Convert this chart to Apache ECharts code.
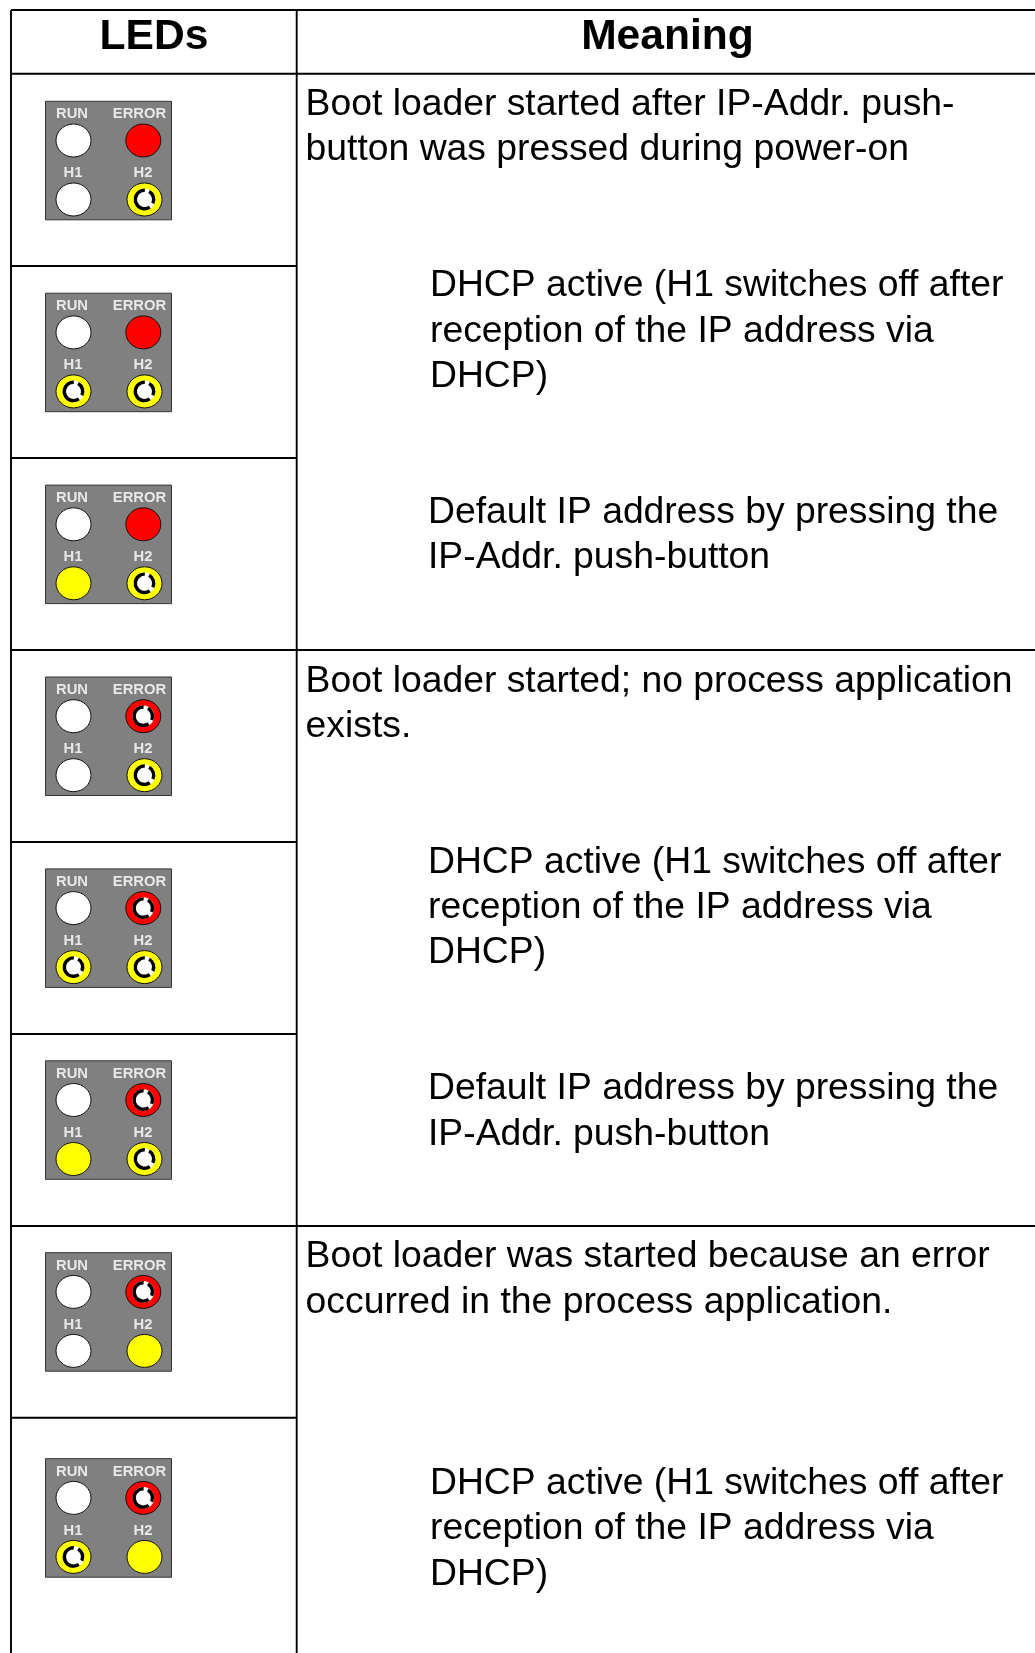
<!DOCTYPE html>
<html>
<head>
<meta charset="utf-8">
<title>LEDs</title>
<script src="https://cdn.jsdelivr.net/npm/echarts@6/dist/echarts.min.js"></script>
<style>
html, body { margin: 0; padding: 0; background: #fff; }
#main { width: 1035px; height: 1653px; }
</style>
</head>
<body>
<div id="main"></div>
<script>
// table content
var headers = [ 'LEDs', 'Meaning' ];
var ledNames = [ 'RUN', 'ERROR', 'H1', 'H2' ];
// state of RUN, ERROR, H1, H2 for each row
var ledStates = [
	[ 'off', 'red', 'off', 'blinkY' ],
	[ 'off', 'red', 'blinkY', 'blinkY' ],
	[ 'off', 'red', 'yellow', 'blinkY' ],
	[ 'off', 'blinkR', 'off', 'blinkY' ],
	[ 'off', 'blinkR', 'blinkY', 'blinkY' ],
	[ 'off', 'blinkR', 'yellow', 'blinkY' ],
	[ 'off', 'blinkR', 'off', 'yellow' ],
	[ 'off', 'blinkR', 'blinkY', 'yellow' ]
];
var noteLines = [
	'Boot loader started after IP-Addr. push-',
	'button was pressed during power-on',
	'DHCP active (H1 switches off after',
	'reception of the IP address via',
	'DHCP)',
	'Default IP address by pressing the',
	'IP-Addr. push-button',
	'Boot loader started; no process application',
	'exists.',
	'DHCP active (H1 switches off after',
	'reception of the IP address via',
	'DHCP)',
	'Default IP address by pressing the',
	'IP-Addr. push-button',
	'Boot loader was started because an error',
	'occurred in the process application.',
	'DHCP active (H1 switches off after',
	'reception of the IP address via',
	'DHCP)'
];

// layout, in page pixels
var noteX = [ 305.6, 305.6, 430, 430, 430, 428, 428, 305.6, 305.6, 428, 428, 428, 428, 428, 305.6, 305.6, 430, 430, 430 ];
var noteY = [ 105, 149.5, 286, 331.5, 376.5, 513, 558, 681.5, 727, 863, 908, 953, 1089, 1134.5, 1256.5, 1302.5, 1484, 1529, 1574.5 ];
var headerX = [ 154, 667.5 ];
var headerY = 37.5;
var panelTop = [ 101.3, 293.2, 485.1, 677, 868.9, 1060.8, 1252.7, 1458.7 ];
var panelX = 45.5, panelW = 126, panelH = 118.5;
var ledDX = [ 28, 97.8, 28, 99 ];
var ledDY = [ 39.2, 39.2, 98.2, 98.2 ];
var labelDX = [ 26.5, 94, 27.5, 97.5 ];
var labelDY = [ 13, 13, 72, 72 ];
var hLines = [ 10, 73.7, 266, 458, 650, 842, 1034, 1226, 1417.7 ];
var vLines = [ 11, 296.7 ];
var lineW = 1.9;

var myChart = echarts.init(document.getElementById('main'), null, { renderer: 'canvas' });

function rad(d) {
	return d * Math.PI / 180;
}

function ledShapes(cx, cy, state) {
	var base = { off: '#ffffff', red: '#ff0000', yellow: '#ffff00', blinkR: '#ff0000', blinkY: '#ffff00' }[state];
	var out = [ {
		type: 'ellipse',
		shape: { cx: cx, cy: cy, rx: 17.5, ry: 16.5 },
		style: { fill: base, stroke: '#111', lineWidth: 1 }
	} ];
	if (state === 'blinkR' || state === 'blinkY') {
		out.push({
			type: 'circle',
			shape: { cx: cx, cy: cy, r: 10.8 },
			style: { fill: '#fff' }
		});
		// broken black ring, gaps at top right and lower right
		out.push({
			type: 'arc',
			shape: { cx: cx, cy: cy, r: 9.2, startAngle: rad(55), endAngle: rad(272), clockwise: true },
			style: { fill: null, stroke: '#000', lineWidth: 3.4 }
		});
		out.push({
			type: 'arc',
			shape: { cx: cx, cy: cy, r: 9.2, startAngle: rad(300), endAngle: rad(385), clockwise: true },
			style: { fill: null, stroke: '#000', lineWidth: 3.4 }
		});
	}
	return out;
}

function renderPanel(params, api) {
	var row = params.dataIndex;
	var p = api.coord([ api.value(0), api.value(1) ]);
	var kids = [ {
		type: 'rect',
		shape: { x: p[0], y: p[1], width: panelW, height: panelH },
		style: { fill: '#808080', stroke: '#333', lineWidth: 1 }
	} ];
	for (var i = 0; i < 4; i++) {
		kids.push({
			type: 'text',
			style: {
				x: p[0] + labelDX[i],
				y: p[1] + labelDY[i],
				text: ledNames[i],
				font: 'bold 14.8px "Liberation Sans", Arial, sans-serif',
				fill: '#e8e8e8',
				align: 'center',
				verticalAlign: 'middle'
			}
		});
		kids = kids.concat(ledShapes(p[0] + ledDX[i], p[1] + ledDY[i], ledStates[row][i]));
	}
	return { type: 'group', children: kids };
}

function renderNote(params, api) {
	var p = api.coord([ api.value(0), api.value(1) ]);
	return {
		type: 'text',
		style: {
			x: p[0],
			y: p[1],
			text: noteLines[params.dataIndex],
			font: '37.3px "Liberation Sans", Arial, sans-serif',
			fill: '#000',
			verticalAlign: 'middle'
		}
	};
}

function renderHeader(params, api) {
	var p = api.coord([ api.value(0), api.value(1) ]);
	return {
		type: 'text',
		style: {
			x: p[0],
			y: p[1],
			text: headers[params.dataIndex],
			font: 'bold 42.6px "Liberation Sans", Arial, sans-serif',
			fill: '#000',
			align: 'center',
			verticalAlign: 'middle'
		}
	};
}

function renderRule(params, api) {
	var a = api.coord([ api.value(0), api.value(1) ]);
	var b = api.coord([ api.value(2), api.value(3) ]);
	return {
		type: 'line',
		shape: { x1: a[0], y1: a[1], x2: b[0], y2: b[1] },
		style: { stroke: '#000', lineWidth: lineW }
	};
}

var rules = [];
hLines.forEach(function(y, i) {
	// row lines under the LED column only, where the meaning cell spans rows
	var spans = (i === 2 || i === 3 || i === 5 || i === 6 || i === 8);
	rules.push([ vLines[0], y, spans ? vLines[1] : 1035, y ]);
});
vLines.forEach(function(x) {
	rules.push([ x, hLines[0], x, 1653 ]);
});

var option = {
	animation: false,
	backgroundColor: '#fff',
	grid: { left: 0, right: 0, top: 0, bottom: 0 },
	xAxis: { type: 'value', min: 0, max: 1035, show: false },
	yAxis: { type: 'value', min: 0, max: 1653, inverse: true, show: false },
	tooltip: { show: false },
	series: [ {
		type: 'custom',
		silent: true,
		clip: false,
		renderItem: renderRule,
		data: rules
	}, {
		type: 'custom',
		silent: true,
		clip: false,
		renderItem: renderHeader,
		data: headerX.map(function(x) { return [ x, headerY ]; })
	}, {
		type: 'custom',
		silent: true,
		clip: false,
		renderItem: renderPanel,
		data: panelTop.map(function(y) { return [ panelX, y ]; })
	}, {
		type: 'custom',
		silent: true,
		clip: false,
		renderItem: renderNote,
		data: noteX.map(function(x, i) { return [ x, noteY[i] ]; })
	} ]
};
myChart.setOption(option);
</script>
</body>
</html>
